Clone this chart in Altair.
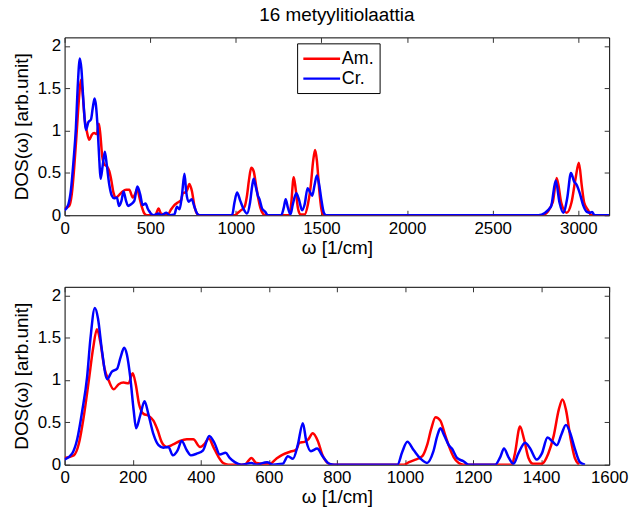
import altair as alt
import pandas as pd

# Am. (red) series
w_am = [0, 27, 42, 56, 71, 84, 95, 105, 117, 130, 144, 159, 173, 188, 200, 209, 219, 232, 246, 261, 274, 285, 300, 319,
        339, 359, 378, 398, 412, 424, 437, 451, 466, 481, 529, 549, 563, 583, 603, 622, 641, 661, 681, 690, 705,
        716, 729, 744, 758, 773, 788, 997, 1012, 1031, 1051, 1065, 1077, 1090, 1104, 1119, 1132, 1143, 1158,
        1172, 1314, 1323, 1338, 1350, 1363, 1377, 1402, 1421, 1437, 1452, 1463, 1473, 1487, 1499, 1512,
        2790, 2850, 2874, 2900, 2932, 2960, 2985, 3003, 3020, 3034, 3057, 3076, 3180]
v_am = [0.08, 0.11, 0.25, 0.56, 0.99, 1.38, 1.60, 1.45, 1.14, 0.99, 0.89, 0.95, 0.97, 0.96, 1.08, 0.95, 0.71, 0.60,
        0.58, 0.52, 0.40, 0.27, 0.21, 0.24, 0.28, 0.30, 0.30, 0.21, 0.25, 0.31, 0.21, 0.10, 0.02, 0.0, 0.0, 0.08,
        0.02, 0.01, 0.01, 0.07, 0.12, 0.15, 0.18, 0.26, 0.27, 0.30, 0.37, 0.28, 0.11, 0.02, 0.0, 0.0, 0.03, 0.06,
        0.10, 0.23, 0.42, 0.56, 0.52, 0.34, 0.19, 0.09, 0.02, 0.0, 0.0, 0.13, 0.45, 0.30, 0.08, 0.01, 0.01, 0.13,
        0.34, 0.65, 0.77, 0.65, 0.30, 0.08, 0.0,
        0.0, 0.15, 0.44, 0.15, 0.03, 0.15, 0.45, 0.62, 0.35, 0.15, 0.06, 0.0, 0.0]

# Cr. (blue) series
w_cr = [0, 22, 37, 52, 66, 76, 89, 98, 110, 125, 139, 154, 164, 175, 183, 193, 203, 210, 222, 235, 246, 261, 276,
        290, 305, 318, 332, 344, 359, 371, 388, 407, 425, 441, 456, 473, 485, 500, 519, 549, 563, 595, 612, 641,
        656, 671, 685, 700, 710, 724, 742, 758, 778, 793, 978, 992, 1007, 1026, 1046, 1065, 1083, 1095, 1104,
        1116, 1129, 1138, 1153, 1172, 1187, 1265, 1280, 1291, 1304, 1319, 1333, 1353, 1368, 1387, 1402, 1419,
        1434, 1446, 1460, 1473, 1485, 1499, 1514, 1529,
        2767, 2840, 2868, 2890, 2912, 2935, 2957, 2975, 2990, 3010, 3028, 3050, 3067, 3080, 3095, 3180]
v_cr = [0.06, 0.13, 0.30, 0.64, 1.03, 1.49, 1.85, 1.73, 1.34, 1.01, 1.10, 1.13, 1.26, 1.38, 1.30, 1.03, 0.64, 0.43,
        0.58, 0.75, 0.60, 0.36, 0.23, 0.20, 0.21, 0.11, 0.17, 0.28, 0.17, 0.11, 0.13, 0.17, 0.34, 0.25, 0.12, 0.14,
        0.08, 0.03, 0.0, 0.02, 0.0, 0.03, 0.0, 0.01, 0.10, 0.07, 0.23, 0.49, 0.28, 0.16, 0.19, 0.10, 0.01, 0.0,
        0.0, 0.15, 0.27, 0.17, 0.07, 0.02, 0.15, 0.34, 0.43, 0.34, 0.23, 0.19, 0.08, 0.04, 0.0, 0.0, 0.09, 0.19,
        0.09, 0.01, 0.13, 0.26, 0.19, 0.06, 0.13, 0.32, 0.27, 0.23, 0.36, 0.47, 0.38, 0.19, 0.03, 0.0,
        0.0, 0.10, 0.41, 0.15, 0.03, 0.20, 0.50, 0.40, 0.36, 0.25, 0.12, 0.04, 0.03, 0.04, 0.0, 0.0]

series_names = ["Am.", "Cr."]
series_colors = ["#ff0000", "#0000ff"]
y_ticks = [0, 0.5, 1, 1.5, 2]
x_ticks_top = [0, 500, 1000, 1500, 2000, 2500, 3000]
x_ticks_bottom = [0, 200, 400, 600, 800, 1000, 1200, 1400, 1600]

df = pd.concat([
    pd.DataFrame({"w": w_am, "v": v_am, "s": "Am."}),
    pd.DataFrame({"w": w_cr, "v": v_cr, "s": "Cr."}),
], ignore_index=True)

FONT = "Liberation Sans"
W, H = 548, 179
LABEL_EXPR = "datum.value + ''"
TEXT_STYLE = dict(labelFont=FONT, labelFontSize=17, labelColor="black", labelFlush=False,
                  labelOverlap=False, titleFont=FONT, titleFontSize=19, titleFontWeight="normal",
                  titleColor="black")


def panel(xmax, xticks, title=None):
    xs = alt.Scale(domain=[0, xmax], nice=False, zero=False)
    ys = alt.Scale(domain=[0, 2.1], nice=False, zero=False)
    base = alt.Chart(df).transform_filter(alt.datum.w <= xmax + 100)
    lines = base.mark_line(strokeWidth=2.5, interpolate="monotone", clip=True).encode(
        x=alt.X("w:Q", scale=xs, axis=alt.Axis(values=xticks, labelExpr=LABEL_EXPR, title="ω [1/cm]",
                                              ticks=False, tickSize=0, domain=False, grid=False,
                                              labelPadding=5, titlePadding=2, orient="bottom", **TEXT_STYLE)),
        y=alt.Y("v:Q", scale=ys, axis=alt.Axis(values=y_ticks, labelExpr=LABEL_EXPR, title="DOS(ω) [arb.unit]",
                                              ticks=False, tickSize=0, domain=False, grid=False,
                                              labelPadding=4, titlePadding=6, orient="left", **TEXT_STYLE)),
        color=alt.Color("s:N", scale=alt.Scale(domain=series_names, range=series_colors),
                        legend=alt.Legend(title=None, orient="none", legendX=234, legendY=6,
                                          symbolType="M-1,0H3", symbolSize=342, symbolStrokeWidth=2.5,
                                          labelOffset=19, labelFontSize=18, labelFont=FONT,
                                          labelColor="black", strokeColor="black", fillColor="white",
                                          padding=5, rowPadding=0)),
    )
    tick_axis = dict(labels=False, title=None, domain=False, grid=False, ticks=True, tickSize=5,
                     tickColor="#333333", tickWidth=1)
    inner1 = base.mark_line(opacity=0, clip=True).encode(
        x=alt.X("w:Q", scale=xs, axis=alt.Axis(values=xticks, orient="top", offset=-H, **tick_axis)),
        y=alt.Y("v:Q", scale=ys, axis=alt.Axis(values=y_ticks, orient="right", offset=-W, **tick_axis)),
    )
    inner2 = base.mark_line(opacity=0, clip=True).encode(
        x=alt.X("w:Q", scale=xs, axis=alt.Axis(values=xticks, orient="bottom", offset=-H, **tick_axis)),
        y=alt.Y("v:Q", scale=ys, axis=alt.Axis(values=y_ticks, orient="left", offset=-W, **tick_axis)),
    )
    ch = alt.layer(lines, inner1, inner2).resolve_axis(x="independent", y="independent").properties(
        width=W, height=H)
    if title:
        ch = ch.properties(title=alt.Title(title, fontSize=19, font=FONT, fontWeight="normal",
                                           anchor="middle", offset=12, color="black"))
    return ch


top = panel(3180, x_ticks_top, "16 metyylitiolaattia")
bottom = panel(1600, x_ticks_bottom)

chart = alt.vconcat(top, bottom, spacing=28).properties(
    padding={"left": 11, "top": 4, "right": 5, "bottom": 5}
).configure(background="white").configure_view(stroke="black", strokeWidth=1)

chart.save("out.html", embed_options={"renderer": "svg", "actions": False})
